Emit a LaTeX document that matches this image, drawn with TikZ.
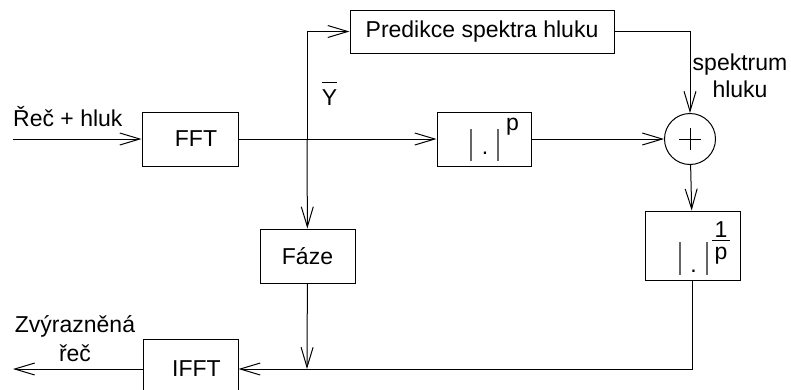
\documentclass[tikz,border=0pt]{standalone}
\usepackage{fontspec}
\setmainfont{Liberation Sans}
\usetikzlibrary{arrows.meta}

\begin{document}
\begin{tikzpicture}[x=1pt,y=-1pt,
  every node/.style={font=\fontsize{23}{28}\selectfont, inner sep=0pt},
  box/.style={draw, line width=1pt},
  wire/.style={line width=1pt},
  absbar/.style={line width=1.1pt, black!60},
  flow/.style={wire, -{Straight Barb[length=20pt,width=12pt]}},
]
\useasboundingbox (0,0) rectangle (791,389);
\clip (0,0) rectangle (791,389);

% blocks
\node[box, minimum width=96, minimum height=54] (fft) at (190,139) {};
\node (ffttext) at ([xshift=6pt]fft.center) {FFT};
\node[box, minimum width=264, minimum height=43] (pred) at (482,31.5) {Predikce spektra hluku};
\node[box, minimum width=94, minimum height=54] (pow) at (484,139) {};
\node[draw, line width=1pt, circle, minimum size=51] (sum) at (690,139) {};
\node[box, minimum width=95, minimum height=69] (inv) at (692.5,245.5) {};
\node[box, minimum width=95, minimum height=54] (faze) at (307.5,256) {Fáze};
\node[box, minimum width=95, minimum height=60] (ifft) at (190.5,369) {};
\node (iffttext) at ([xshift=6pt]ifft.center) {IFFT};

% |.|^p
\node[anchor=base] (powdot) at (485,154.5) {.};
\draw[absbar] (471,129) -- (471,161) (498,129) -- (498,161);
\node[anchor=base west] (powexp) at (506,130) {p};

% |.|^(1/p)
\node[anchor=base] (invdot) at (693.5,272.5) {.};
\draw[absbar] (680,242) -- (680,275) (707,242) -- (707,275);
\node[anchor=base] (invnum) at (721,237) {1};
\node[anchor=base] (invden) at (721,259) {p};
\draw[line width=1pt] ([xshift=-9pt,yshift=-3pt]invnum.base) -- ([xshift=9pt,yshift=-3pt]invnum.base);

% plus sign
\draw[line width=0.8pt] ([xshift=-11pt]sum.center) -- ([xshift=11pt]sum.center)
  ([yshift=-11pt]sum.center) -- ([yshift=11pt]sum.center);

% texts
\node[anchor=base west] (input) at (13,126) {Řeč + hluk};
\node[anchor=base] (ylab) at (329.5,105) {Y};
\draw[line width=1pt] ([yshift=6pt]ylab.north west) -- ([yshift=6pt]ylab.north east);
\node[anchor=base, align=center, font=\fontsize{23}{27}\selectfont] (spec) at (740,97) {spektrum\\hluku};
\node[anchor=base, align=center, font=\fontsize{23}{29}\selectfont] (output) at (75,361) {Zvýrazněná\\řeč};

% connectors
\coordinate (in) at (13,139);
\coordinate (split) at (307,139);
\coordinate (merge) at (307,369);
\coordinate (out) at (13,369);

\draw[flow] (in) -- (fft);
\draw[flow] (fft) -- (pow);
\draw[flow] (split) |- (pred.west);
\draw[flow] (split) -- (faze);
\draw[flow] (pred.east) -| (sum.north);
\draw[flow] (pow) -- (sum);
\draw[flow] (sum) -- (inv);
\draw[flow] (inv.south) |- (ifft.east);
\draw[flow] (faze) -- (merge);
\draw[flow] (ifft.west) -- (out);
\end{tikzpicture}
\end{document}
